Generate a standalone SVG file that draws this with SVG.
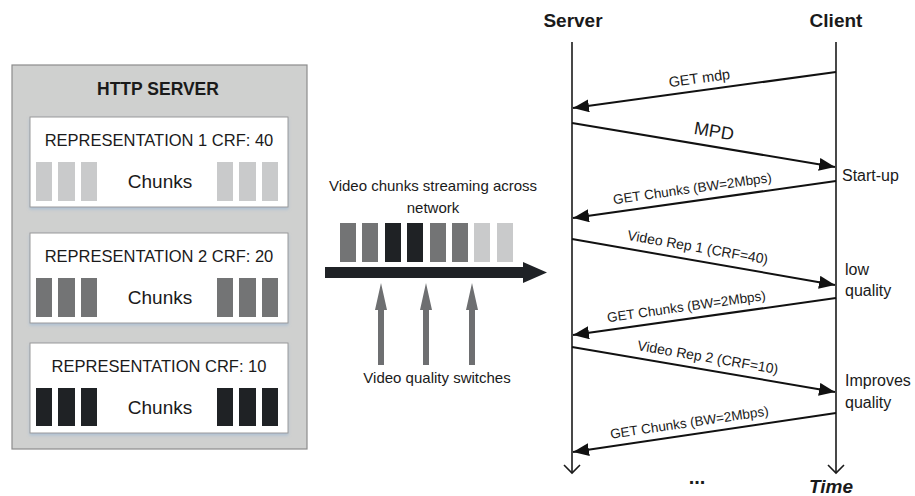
<svg xmlns="http://www.w3.org/2000/svg" width="915" height="496" viewBox="0 0 915 496">
<style>
  text { font-family: "Liberation Sans", Arial, sans-serif; fill: #1a1a1a; }
  .rep { font-size: 16.5px; text-anchor: middle; }
  .chk { font-size: 19px; text-anchor: middle; }
  .lbl { font-size: 15px; text-anchor: middle; }
  .msg { font-size: 13.5px; text-anchor: middle; }
  .side { font-size: 16px; }
  .hdr { font-size: 19px; font-weight: bold; text-anchor: middle; }
  .box { fill: #ffffff; stroke: #9a9a9a; stroke-width: 1; filter: url(#sh); }
  .light { fill: #c9cacb; }
  .mid { fill: #737475; }
  .dark { fill: #1f2225; }
  .life { stroke: #1a1a1a; stroke-width: 1.6; fill: none; }
  .m { stroke: #111; stroke-width: 2; fill: none; marker-end: url(#ah); }
  .up { fill: #6e6f71; }
</style>
<defs>
  <filter id="sh" x="-5%" y="-10%" width="110%" height="130%">
    <feDropShadow dx="0" dy="2" stdDeviation="1.5" flood-color="#8fb0d6" flood-opacity="0.5"/>
  </filter>
  <marker id="ah" markerUnits="userSpaceOnUse" markerWidth="17" markerHeight="13" refX="16" refY="6.5" orient="auto">
    <path d="M0,0 L16,6.5 L0,13 Z" fill="#111"/>
  </marker>
</defs>

<!-- HTTP server -->
<g id="http-server">
  <rect x="12" y="65" width="295" height="384" fill="#cfd0cf" stroke="#8c8c8c" stroke-width="1.2"/>
  <text x="158" y="95" style="font-size:17.5px;font-weight:bold;text-anchor:middle">HTTP SERVER</text>
</g>

<g id="rep1">
  <rect class="box" x="30" y="117" width="258" height="90"/>
  <text class="rep" x="159" y="146">REPRESENTATION 1 CRF: 40</text>
  <rect class="light" x="36" y="162" width="16" height="39"/>
  <rect class="light" x="58" y="162" width="17" height="39"/>
  <rect class="light" x="81" y="162" width="16" height="39"/>
  <rect class="light" x="217" y="162" width="16" height="39"/>
  <rect class="light" x="239" y="162" width="17" height="39"/>
  <rect class="light" x="262" y="162" width="16" height="39"/>
  <text class="chk" x="160" y="188">Chunks</text>
</g>

<g id="rep2">
  <rect class="box" x="30" y="233" width="258" height="90"/>
  <text class="rep" x="159" y="262">REPRESENTATION 2 CRF: 20</text>
  <rect class="mid" x="36" y="278" width="16" height="39"/>
  <rect class="mid" x="58" y="278" width="17" height="39"/>
  <rect class="mid" x="81" y="278" width="16" height="39"/>
  <rect class="mid" x="217" y="278" width="16" height="39"/>
  <rect class="mid" x="239" y="278" width="17" height="39"/>
  <rect class="mid" x="262" y="278" width="16" height="39"/>
  <text class="chk" x="160" y="304">Chunks</text>
</g>

<g id="rep3">
  <rect class="box" x="30" y="343" width="258" height="90"/>
  <text class="rep" x="159" y="372">REPRESENTATION CRF: 10</text>
  <rect class="dark" x="36" y="388" width="16" height="38"/>
  <rect class="dark" x="58" y="388" width="17" height="38"/>
  <rect class="dark" x="81" y="388" width="16" height="38"/>
  <rect class="dark" x="217" y="388" width="16" height="38"/>
  <rect class="dark" x="239" y="388" width="17" height="38"/>
  <rect class="dark" x="262" y="388" width="16" height="38"/>
  <text class="chk" x="160" y="414">Chunks</text>
</g>

<!-- Streaming -->
<g id="stream">
  <text class="lbl" x="433" y="191">Video chunks streaming across</text>
  <text class="lbl" x="433" y="213">network</text>
  <rect class="mid" x="340" y="223" width="16" height="39"/>
  <rect class="mid" x="362" y="223" width="16" height="39"/>
  <rect class="dark" x="385" y="223" width="16" height="39"/>
  <rect class="dark" x="407" y="223" width="16" height="39"/>
  <rect class="mid" x="430" y="223" width="16" height="39"/>
  <rect class="mid" x="452" y="223" width="16" height="39"/>
  <rect class="light" x="474" y="223" width="16" height="39"/>
  <rect class="light" x="497" y="223" width="16" height="39"/>
  <polygon points="325,267 523,267 523,262 547,272.5 523,283 523,278 325,278" fill="#1f2226"/>
</g>

<g id="switches">
  <polygon class="up" points="378,365 378,310 375,310 381,283 387,310 384,310 384,365"/>
  <polygon class="up" points="423,365 423,310 420,310 426,283 432,310 429,310 429,365"/>
  <polygon class="up" points="469,365 469,310 466,310 472,283 478,310 475,310 475,365"/>
  <text class="lbl" x="437" y="383">Video quality switches</text>
</g>

<!-- Sequence -->
<g id="server">
  <text class="hdr" x="573" y="27">Server</text>
  <line class="life" x1="572" y1="42" x2="572" y2="473"/>
  <polyline class="life" points="564,465 572,473 580,465"/>
</g>
<g id="client">
  <text class="hdr" x="836" y="27">Client</text>
  <line class="life" x1="836" y1="42" x2="836" y2="473"/>
  <polyline class="life" points="828,465 836,473 844,465"/>
</g>

<g id="connectors">
  <line class="m" x1="836" y1="72" x2="573" y2="108"/>
  <line class="m" x1="572" y1="123" x2="835" y2="167"/>
  <line class="m" x1="836" y1="181" x2="573" y2="218"/>
  <line class="m" x1="572" y1="239" x2="835" y2="285"/>
  <line class="m" x1="836" y1="298" x2="573" y2="335"/>
  <line class="m" x1="572" y1="347" x2="835" y2="392"/>
  <line class="m" x1="836" y1="413" x2="573" y2="452"/>

  <text style="font-size:14.5px;text-anchor:middle" transform="translate(700,83) rotate(-7.8)">GET mdp</text>
  <text style="font-size:18px;text-anchor:middle" transform="translate(713,137) rotate(9.5)">MPD</text>
  <text class="msg" transform="translate(693,193) rotate(-8)">GET Chunks (BW=2Mbps)</text>
  <text style="font-size:14px;text-anchor:middle" transform="translate(697,252) rotate(9.9)">Video Rep 1 (CRF=40)</text>
  <text class="msg" transform="translate(687,311) rotate(-8)">GET Chunks (BW=2Mbps)</text>
  <text style="font-size:14px;text-anchor:middle" transform="translate(707,362) rotate(9.7)">Video Rep 2 (CRF=10)</text>
  <text class="msg" transform="translate(690,427) rotate(-8.4)">GET Chunks (BW=2Mbps)</text>
</g>

<g id="annotations">
  <text class="side" x="842" y="181">Start-up</text>
  <text class="side" x="845" y="275">low</text>
  <text class="side" x="845" y="296">quality</text>
  <text class="side" x="845" y="386">Improves</text>
  <text class="side" x="845" y="408">quality</text>
  <text style="font-size:20px;font-weight:bold;text-anchor:middle" x="697" y="484">...</text>
  <text style="font-size:19px;font-weight:bold;font-style:italic;text-anchor:middle" x="831" y="493">Time</text>
</g>
</svg>
